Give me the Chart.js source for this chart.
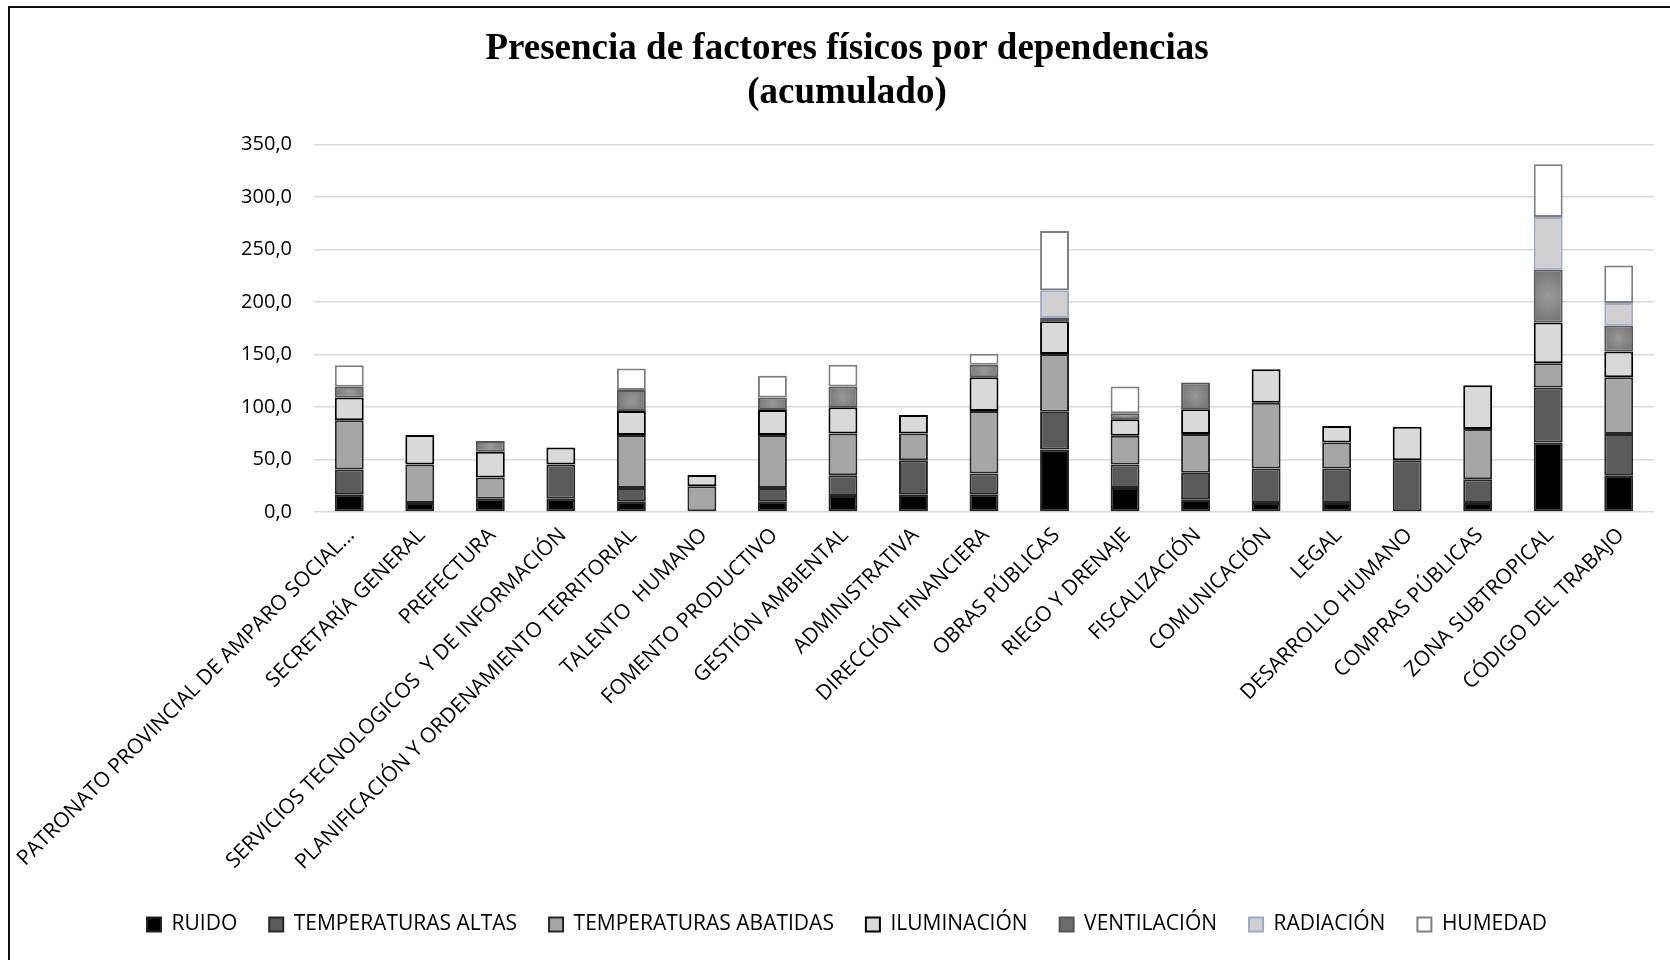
<!DOCTYPE html>
<html>
<head>
<meta charset="utf-8">
<title>Presencia de factores físicos por dependencias</title>
<script src="https://cdn.jsdelivr.net/npm/chart.js@4/dist/chart.umd.min.js"></script>
<style>
    html, body { margin: 0; padding: 0; background: #fff; overflow: hidden; }
    #frame {
        position: absolute; left: 8px; top: 6px; width: 1670px; height: 960px;
        border-left: 2px solid #111; border-top: 2px solid #111;
    }
    #wrap { position: absolute; left: 0; top: 0; width: 1670px; height: 960px; }
</style>
</head>
<body>
<div id="frame"></div>
<div id="wrap"><canvas id="chart_factores"></canvas></div>
<script>
var dependencias = [
    "PATRONATO PROVINCIAL DE AMPARO SOCIAL...",
    "SECRETARÍA GENERAL",
    "PREFECTURA",
    "SERVICIOS TECNOLOGICOS  Y DE INFORMACIÓN",
    "PLANIFICACIÓN Y ORDENAMIENTO TERRITORIAL",
    "TALENTO  HUMANO",
    "FOMENTO PRODUCTIVO",
    "GESTIÓN AMBIENTAL",
    "ADMINISTRATIVA",
    "DIRECCIÓN FINANCIERA",
    "OBRAS PÚBLICAS",
    "RIEGO Y DRENAJE",
    "FISCALIZACIÓN",
    "COMUNICACIÓN",
    "LEGAL",
    "DESARROLLO HUMANO",
    "COMPRAS PÚBLICAS",
    "ZONA SUBTROPICAL",
    "CÓDIGO DEL TRABAJO"
];

var ruido        = [17.0, 8.6, 12.7, 12.7, 10.2, 0, 10.2, 15.3, 16.9, 16.9, 59.5, 22.9, 12.1, 8.6, 8.6, 0, 8.6, 66.2, 35.0];
var tempAltas    = [23.4, 0, 0, 32.5, 12.7, 0, 12.7, 19.7, 32.4, 19.7, 36.0, 22.3, 25.2, 32.8, 32.8, 49.3, 22.6, 52.2, 39.2];
var tempAbatidas = [47.0, 36.6, 20.1, 0, 50.3, 24.5, 50.3, 39.8, 25.5, 59.5, 54.8, 27.4, 36.9, 62.7, 24.8, 0, 47.8, 23.3, 54.1];
var iluminacion  = [21.6, 28.0, 24.5, 16.2, 22.9, 10.8, 23.9, 24.9, 17.5, 32.2, 31.2, 15.6, 23.5, 31.9, 15.6, 31.9, 41.7, 38.8, 24.5];
var ventilacion  = [10.2, 0, 10.2, 0, 20.1, 0, 11.8, 19.7, 0, 11.8, 3.2, 5.7, 25.5, 0, 0, 0, 0, 50.3, 24.7];
var radiacion    = [0, 0, 0, 0, 0, 0, 0, 0, 0, 0, 26.4, 0, 0, 0, 0, 0, 0, 50.0, 21.5];
var humedad      = [20.4, 0, 0, 0, 20.4, 0, 20.7, 20.7, 0, 10.5, 56.4, 25.5, 0, 0, 0, 0, 0, 50.3, 35.7];

var yTicks = [0, 50, 100, 150, 200, 250, 300, 350];

var legendPad = 32;

// the ventilation segments have a soft lighter centre
function ventilacionFill(context) {
    var chart = context.chart;
    var x = chart.scales.x, y = chart.scales.y;
    if (context.type !== 'data' || !x || !y || !chart.chartArea) {
        return '#848484';
    }
    var i = context.dataIndex;
    var below = ruido[i] + tempAltas[i] + tempAbatidas[i] + iluminacion[i];
    var cx = x.getPixelForValue(i);
    var yTop = y.getPixelForValue(below + ventilacion[i]);
    var yBot = y.getPixelForValue(below);
    var cy = (yTop + yBot) / 2;
    var r = Math.max(Math.abs(yBot - yTop) / 2, 15) * 1.3;
    var g = chart.ctx.createRadialGradient(cx, cy, 0, cx, cy, r);
    g.addColorStop(0, '#9a9a9a');
    g.addColorStop(1, '#6c6c6c');
    return g;
}

function serie(label, data, fill, border) {
    return {
        label: label,
        data: data,
        backgroundColor: fill,
        borderColor: border,
        borderWidth: 2,
        borderSkipped: false,
        barPercentage: 0.41,
        categoryPercentage: 1
    };
}

var ctx = document.getElementById("chart_factores").getContext("2d");
var myChart = new Chart(ctx, {
    type: 'bar',
    data: {
        labels: dependencias,
        datasets: [
            serie('RUIDO', ruido, '#000000', '#222222'),
            serie('TEMPERATURAS ALTAS', tempAltas, '#5a5a5a', '#262626'),
            serie('TEMPERATURAS ABATIDAS', tempAbatidas, '#a6a6a6', '#262626'),
            serie('ILUMINACIÓN', iluminacion, '#d9d9d9', '#000000'),
            serie('VENTILACIÓN', ventilacion, ventilacionFill, '#555555'),
            serie('RADIACIÓN', radiacion, '#d0cece', '#9aabcb'),
            serie('HUMEDAD', humedad, '#ffffff', '#7f7f7f')
        ]
    },
    options: {
        responsive: true,
        maintainAspectRatio: false,
        animation: false,
        layout: {
            padding: { top: 0, left: 40, right: 16, bottom: 15 }
        },
        plugins: {
            title: {
                display: true,
                text: ['Presencia de factores físicos por dependencias', '(acumulado)'],
                color: '#000000',
                font: { family: '"Liberation Serif", "Times New Roman", serif', size: 37, weight: 'bold', lineHeight: 1.18 },
                padding: { top: 28, bottom: 29 }
            },
            legend: {
                position: 'bottom',
                labels: {
                    color: '#000000',
                    font: { family: '"Open Sans", sans-serif', size: 21 },
                    boxWidth: 14,
                    boxHeight: 14,
                    padding: legendPad
                }
            },
            tooltip: { enabled: false }
        },
        scales: {
            x: {
                stacked: true,
                grid: { display: false },
                border: { display: false },
                ticks: {
                    autoSkip: false,
                    maxRotation: 45,
                    minRotation: 45,
                    padding: 3,
                    labelOffset: 2,
                    color: '#000000',
                    font: { family: '"Open Sans", sans-serif', size: 21 }
                },
                afterFit: function (scale) {
                    // long rotated names may hang past the y axis, keep the plot where it is
                    scale.height = 402 - legendPad;
                    scale.paddingLeft = 0;
                    scale.paddingRight = 0;
                }
            },
            y: {
                stacked: true,
                min: 0,
                max: 350,
                border: { display: false },
                grid: { color: '#d9d9d9', lineWidth: 1.5, drawTicks: false },
                afterBuildTicks: function (scale) {
                    scale.ticks = yTicks.map(function (v) { return { value: v }; });
                },
                ticks: {
                    padding: 22,
                    color: '#000000',
                    font: { family: '"Open Sans", sans-serif', size: 20 },
                    callback: function (v) {
                        return v.toFixed(1).replace('.', ',');
                    }
                },
                afterFit: function (scale) {
                    scale.width = 274;
                }
            }
        }
    }
});
</script>
</body>
</html>
